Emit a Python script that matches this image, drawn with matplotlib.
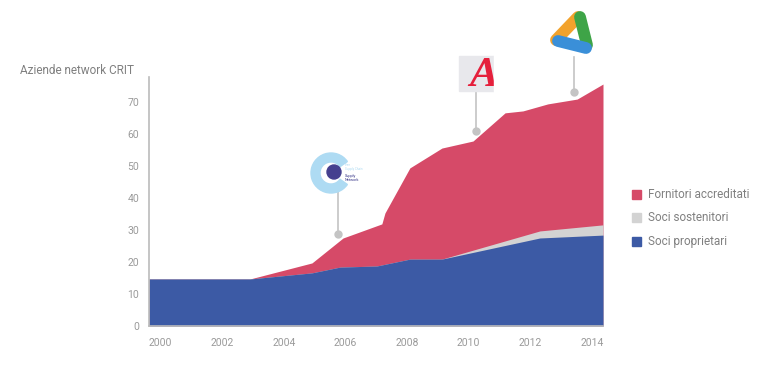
import matplotlib
matplotlib.use('Agg')
import matplotlib.pyplot as plt
from matplotlib.patches import Rectangle, Wedge, Circle, Polygon

plt.rcParams['font.family'] = ['Roboto', 'DejaVu Sans']

# cumulative tops of the stacked areas
anni_totale = [2000, 2003.28, 2005.29, 2006.30, 2007.56, 2007.66, 2008.47,
               2009.51, 2010.52, 2011.56, 2012.14, 2012.95, 2013.90, 2014.74]
totale = [14.7, 14.7, 19.7, 27.5, 31.9, 35.3, 49.4,
          55.6, 57.8, 66.6, 67.2, 69.4, 70.9, 75.6]

anni_soci = [2000, 2003.28, 2005.29, 2006.20, 2007.40, 2008.47, 2009.51, 2012.69, 2014.74]
soci_totali = [14.7, 14.7, 16.6, 18.4, 18.75, 20.9, 20.9, 29.7, 31.6]
soci_proprietari = [14.7, 14.7, 16.6, 18.4, 18.75, 20.9, 20.9, 27.5, 28.4]

serie = ['Fornitori accreditati', 'Soci sostenitori', 'Soci proprietari']
colori = ['#D64A68', '#D3D3D3', '#3C5AA5']

anni_tick = [2000, 2002, 2004, 2006, 2008, 2010, 2012, 2014]
valori_tick = [0, 10, 20, 30, 40, 50, 60, 70]

# anchor points of the three logos (year, value)
logo_punti = [(2006.14, 28.75), (2010.62, 60.9), (2013.80, 73.1)]
logo_alti = [41.9, 73.1, 84.0]

fig = plt.figure(figsize=(7.6, 3.75), dpi=100)
ax = fig.add_axes([149 / 760, 49 / 375, 454 / 760, 249 / 375])

ax.fill_between(anni_totale, 0, totale, color=colori[0], lw=0)
ax.fill_between(anni_soci, 0, soci_totali, color=colori[1], lw=0)
ax.fill_between(anni_soci, 0, soci_proprietari, color=colori[2], lw=0)

ax.set_xlim(2000, 2014.74)
ax.set_ylim(0, 77.8)
ax.set_xticks(anni_tick)
ax.set_xticklabels([str(a) for a in anni_tick], ha='left')
ax.set_yticks(valori_tick)
ax.tick_params(length=0, labelsize=7.5, labelcolor='#9A9A9A')
ax.tick_params(axis='y', pad=7)
ax.tick_params(axis='x', pad=9)
for s in ['top', 'right']:
    ax.spines[s].set_visible(False)
for s in ['left', 'bottom']:
    ax.spines[s].set_color('#BBBBBB')
    ax.spines[s].set_linewidth(1.2)

fig.text(20 / 760, 1 - 71 / 375, 'Aziende network CRIT', fontsize=8.5,
         color='#808080', va='center', ha='left')

# connectors for the logos
for (x, y), top in zip(logo_punti, logo_alti):
    ax.plot([x, x], [y, top], color='#C4C4C4', lw=1.2, clip_on=False, zorder=5)
    ax.plot(x, y, 'o', color='#C4C4C4', ms=5, clip_on=False, zorder=5)

# overlay in pixel coordinates for logos and legend
ov = fig.add_axes([0, 0, 1, 1])
ov.set_xlim(0, 760)
ov.set_ylim(375, 0)
ov.axis('off')

# logo 1: light blue C ring
ov.add_patch(Wedge((331, 173), 20, 35, 325, width=9, color='#AEDBF3'))
ov.add_patch(Circle((334, 172), 7, color='#45408F'))
ov.text(345, 167, 'Free\nSupply Chain', fontsize=2.2, color='#AEDBF3', va='center')
ov.text(345, 178, 'Supply\nNetwork', fontsize=2.8, color='#3B3A8A', va='center',
        linespacing=0.9)

# logo 2: grey box with red A, cut at the right edge
ov.add_patch(Rectangle((459, 56), 35, 35, color='#E8E8EC', zorder=1))
ov.text(484, 76, 'A', fontsize=31, family='Liberation Serif', style='italic',
        weight='bold', color='#E5203C', ha='center', va='center', zorder=2)
ov.add_patch(Rectangle((494, 50), 14, 45, color='white', zorder=3))

# logo 3: tri-colour triangle
ov.add_patch(Polygon([(557, 42), (579, 16), (587, 48)], color='white'))
ov.plot([556, 578], [40, 17], color='#F2A22C', lw=8.5, solid_capstyle='round')
ov.plot([580, 587], [17, 45], color='#3EA447', lw=8.5, solid_capstyle='round')
ov.plot([586, 558], [48, 41], color='#3A8FD8', lw=8.5, solid_capstyle='round')

# legend
for i, (nome, col) in enumerate(zip(serie, colori)):
    yy = 194 + i * 23.5
    ov.add_patch(Rectangle((632, yy - 4.5), 9, 9, color=col))
    ov.text(648, yy, nome, fontsize=8.5, color='#808080', va='center')

fig.savefig('out.png', dpi=100)
